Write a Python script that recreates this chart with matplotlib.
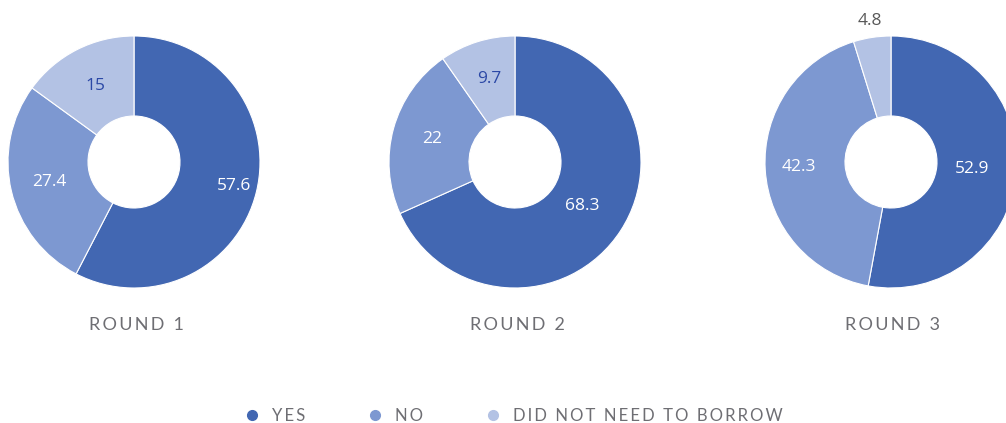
import matplotlib
matplotlib.use("Agg")
import matplotlib.pyplot as plt
from matplotlib.lines import Line2D
import numpy as np

# data
rounds = ["ROUND 1", "ROUND 2", "ROUND 3"]
categories = ["YES", "NO", "DID NOT NEED TO BORROW"]
yes = [57.6, 68.3, 52.9]
no = [27.4, 22, 42.3]
not_needed = [15, 9.7, 4.8]

colors = ["#4267B2", "#7D98D1", "#B3C2E4"]
label_colors = ["white", "white", "#2B48A6"]
# radial distance of each value label (fraction of outer radius)
label_dist = [[0.82, 0.69, 0.68],
              [0.64, 0.68, 0.69],
              [0.65, 0.73, 1.13]]
centers_x = [134, 515, 891]
cy = 261
R = 126
hole = 46


def spaced(s):
    # fake letter spacing with thin spaces
    return "\u2009".join(s)


fig = plt.figure(figsize=(10.06, 4.23), dpi=100)
ax = fig.add_axes([0, 0, 1, 1])

for i, name in enumerate(rounds):
    vals = [yes[i], no[i], not_needed[i]]
    cx = centers_x[i]
    wedges, _ = ax.pie(vals, colors=colors, startangle=90, counterclock=False,
                       radius=R, center=(cx, cy),
                       wedgeprops=dict(width=R - hole, edgecolor="white", linewidth=0.8))
    for j, w in enumerate(wedges):
        ang = np.deg2rad((w.theta1 + w.theta2) / 2)
        d = label_dist[i][j] * R
        c = label_colors[j]
        if label_dist[i][j] > 1:
            c = "#595959"
        ax.text(cx + d * np.cos(ang), cy + d * np.sin(ang), f"{vals[j]:g}",
                ha="center", va="center", fontsize=12.5, color=c,
                family="Open Sans")
    ax.text(cx + 2, 98, spaced(name), ha="center", va="center", fontsize=13,
            color="#6E6E73", family=["Lato", "DejaVu Sans"])

ax.set_xlim(0, 1006)
ax.set_ylim(0, 423)
ax.set_aspect("auto")
ax.axis("off")

handles = [Line2D([], [], marker="o", linestyle="", markersize=7,
                  markerfacecolor=c, markeredgecolor=c) for c in colors]
fig.legend(handles, [spaced(c) for c in categories], loc="center",
           bbox_to_anchor=(514 / 1006, 7 / 423),
           ncol=3, frameon=False, handlelength=0.8, handletextpad=0.8,
           columnspacing=3.8,
           prop=dict(family=["Lato", "DejaVu Sans"], size=12),
           labelcolor="#6E6E73")

fig.savefig("out.png", dpi=100)
